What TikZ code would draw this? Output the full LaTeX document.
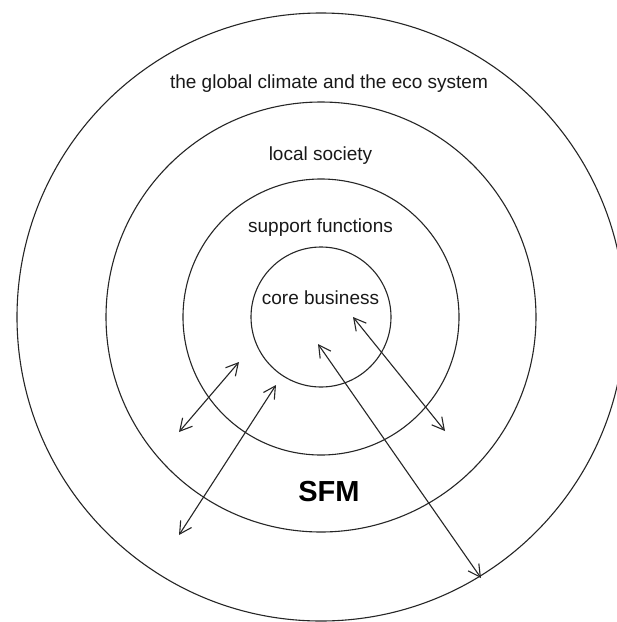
\documentclass[tikz,border=0pt]{standalone}
\usepackage{fontspec}
\setmainfont{Liberation Sans}
\usetikzlibrary{arrows.meta}
\begin{document}
\begin{tikzpicture}[x=1pt,y=-1pt,
  ring/.style={draw=black!85,line width=1.1pt},
  lbl/.style={inner sep=0pt,anchor=base,text=black!90,font=\fontsize{19}{22}\selectfont},
  big/.style={inner sep=0pt,anchor=base,text=black,font=\fontsize{29}{32}\selectfont\bfseries},
  link/.style={draw=black!85,line width=1.1pt,{Straight Barb[length=12pt,width=13pt,line width=1.1pt]}-{Straight Barb[length=12pt,width=13pt,line width=1.1pt]}}]
\useasboundingbox (0,0) rectangle (617,622);
\clip (0,0) rectangle (617,622);
\fill[white] (0,0) rectangle (617,622);
% rings
\coordinate (c) at (321,317);
\draw[ring] (c) circle[radius=304pt];
\draw[ring] (c) circle[radius=215pt];
\draw[ring] (c) circle[radius=138pt];
\draw[ring] (c) circle[radius=70pt];
% labels
\node[lbl] (global) at (329,88) {the global climate and the eco system};
\node[lbl] (local) at (320.5,160) {local society};
\node[lbl] (support) at (320.5,232) {support functions};
\node[lbl] (core) at (320.5,304) {core business};
\node[big] (sfm) at (329,501) {SFM};
% arrow ends
\coordinate (a1) at (179,432);
\coordinate (a2) at (239,362);
\coordinate (b1) at (179,535);
\coordinate (b2) at (276,385);
\coordinate (c1) at (318,344);
\coordinate (c2) at (481,578);
\coordinate (d1) at (353,317);
\coordinate (d2) at (445,431);
\draw[link] (a1) -- (a2);
\draw[link] (b1) -- (b2);
\draw[link] (c1) -- (c2);
\draw[link] (d1) -- (d2);
\end{tikzpicture}
\end{document}
